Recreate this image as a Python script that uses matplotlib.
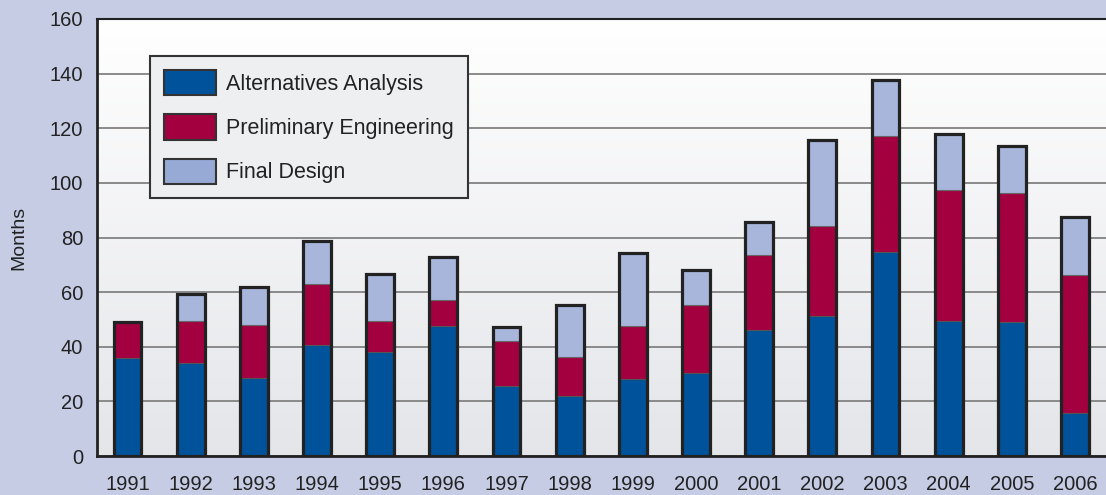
import numpy as np
import matplotlib
matplotlib.use("Agg")
import matplotlib.pyplot as plt
from matplotlib.patches import Patch

years = ["1991", "1992", "1993", "1994", "1995", "1996", "1997", "1998",
         "1999", "2000", "2001", "2002", "2003", "2004", "2005", "2006"]
alternatives = [35.8, 34.0, 28.4, 40.8, 37.9, 47.6, 25.6, 21.9,
                28.3, 30.3, 46.0, 51.2, 74.7, 49.6, 48.9, 15.8]
preliminary = [13.2, 15.3, 19.5, 22.2, 11.6, 9.5, 16.5, 14.5,
               19.4, 25.0, 27.5, 33.0, 42.6, 47.7, 47.3, 50.6]
final_design = [0.0, 10.0, 14.0, 15.6, 17.0, 15.6, 5.2, 18.8,
                26.7, 12.8, 12.1, 31.6, 20.4, 20.7, 17.4, 21.1]
series_names = ["Alternatives Analysis", "Preliminary Engineering", "Final Design"]
yticks = [0, 20, 40, 60, 80, 100, 120, 140, 160]

c_blue = "#00529b"
c_red = "#a30040"
c_light = "#a9b6db"
bg = "#c5cce4"

plt.rcParams['font.family'] = ['Liberation Sans', 'DejaVu Sans']

fig = plt.figure(figsize=(11.06, 4.95), dpi=100, facecolor=bg)
ax = fig.add_axes([97/1106, 1 - 456/495, 1 - 97/1106, (456 - 19)/495])

# gradient background
grad = np.linspace(0, 1, 256).reshape(-1, 1)
top = np.array([1.0, 1.0, 1.0])
bot = np.array([0.895, 0.9, 0.915])
img = top[None, None, :] * (1 - grad[:, :, None]) + bot[None, None, :] * grad[:, :, None]
ax.imshow(img, extent=[0, 1, 0, 1], transform=ax.transAxes, aspect='auto', zorder=0)

x = np.arange(len(years))
w = 0.44
a = np.array(alternatives)
p = np.array(preliminary)
f = np.array(final_design)

ax.bar(x, a, w, color=c_blue, edgecolor="#333333", linewidth=0.8, zorder=3)
ax.bar(x, p, w, bottom=a, color=c_red, edgecolor="#555555", linewidth=0.8, zorder=3)
ax.bar(x, f, w, bottom=a + p, color=c_light, edgecolor="#666666", linewidth=0.8, zorder=3)
ax.bar(x, a + p + f, w, fill=False, edgecolor="#222222", linewidth=2.3, zorder=4)

ax.set_xlim(-0.483, 15.49)
ax.set_ylim(0, 160)
ax.set_yticks(yticks)
ax.set_yticklabels([str(v) for v in yticks], fontsize=14.5, color="#222222")
ax.set_xticks(x)
ax.set_xticklabels(years, fontsize=14.5, color="#222222")
ax.tick_params(axis='both', length=0)
ax.tick_params(axis='y', pad=10)
ax.tick_params(axis='x', pad=14)
ax.yaxis.grid(True, color="#8a8a8a", linewidth=1.4, zorder=1)
ax.set_axisbelow(True)

ax.spines['right'].set_visible(False)
for s in ['left', 'top', 'bottom']:
    ax.spines[s].set_color("#222222")
    ax.spines[s].set_linewidth(2.0)
ax.spines['top'].set_linewidth(1.5)

ax.set_ylabel("Months", fontsize=14, color="#222222", labelpad=16)

handles = [Patch(facecolor=c_blue, edgecolor="#333333", linewidth=1.5),
           Patch(facecolor=c_red, edgecolor="#333333", linewidth=1.5),
           Patch(facecolor="#96aad5", edgecolor="#333333", linewidth=1.5)]
leg = ax.legend(handles, series_names, loc='upper left',
                bbox_to_anchor=(0.0525, 0.915), borderaxespad=0,
                fontsize=15.5, handlelength=2.4, handleheight=1.43,
                handletextpad=0.5, labelspacing=0.88, borderpad=0.65,
                fancybox=False, framealpha=1, facecolor="#eeeff0",
                edgecolor="#333333")
leg.get_frame().set_linewidth(1.5)
leg.set_zorder(5)
for t in leg.get_texts():
    t.set_color("#222222")

fig.savefig("out.png", dpi=100, facecolor=bg)
